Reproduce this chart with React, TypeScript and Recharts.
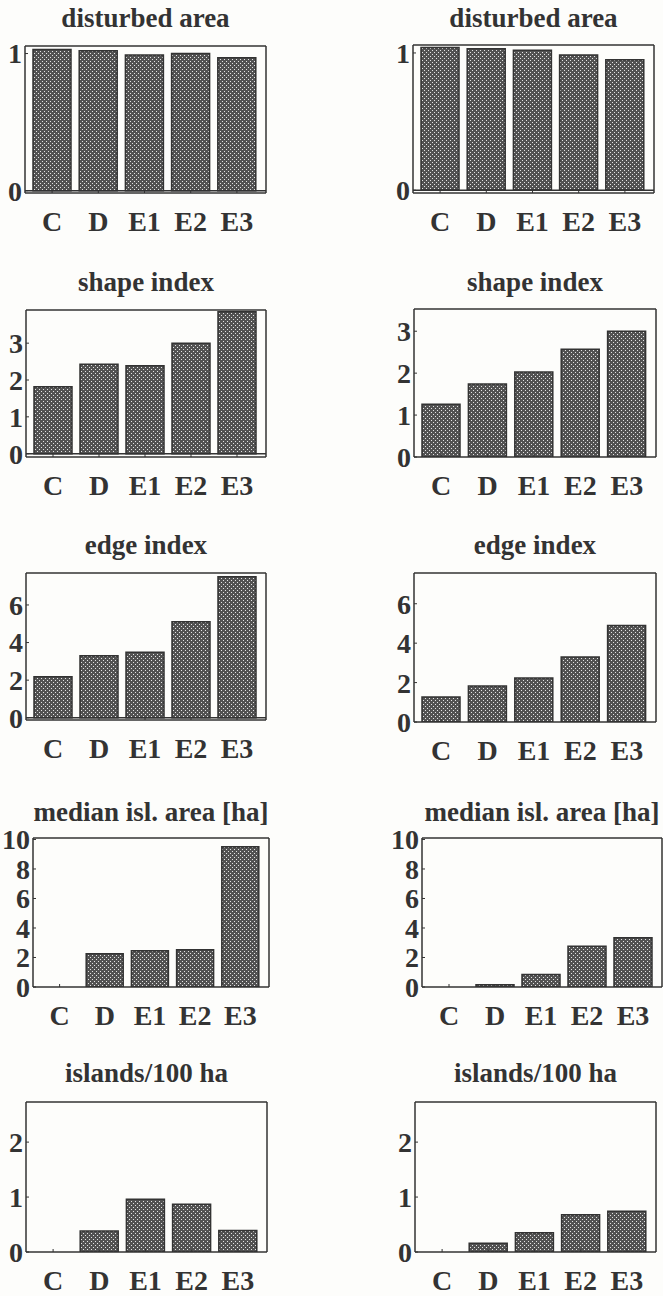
import { BarChart, Bar, XAxis, YAxis, ReferenceLine } from "recharts";

const categories = ["C", "D", "E1", "E2", "E3"];
const titles = ["disturbed area", "shape index", "edge index", "median isl. area [ha]", "islands/100 ha"];

// left column
const disturbedAreaL = [1.03, 1.02, 0.99, 1.0, 0.97];
const shapeIndexL = [1.82, 2.43, 2.39, 3.0, 3.85];
const edgeIndexL = [2.18, 3.3, 3.48, 5.1, 7.5];
const medianAreaL = [0, 2.25, 2.46, 2.53, 9.5];
const islandsL = [0, 0.38, 0.96, 0.87, 0.39];

// right column
const disturbedAreaR = [1.04, 1.03, 1.02, 0.985, 0.95];
const shapeIndexR = [1.26, 1.74, 2.03, 2.57, 3.0];
const edgeIndexR = [1.27, 1.83, 2.23, 3.3, 4.9];
const medianAreaR = [0, 0.15, 0.85, 2.76, 3.33];
const islandsR = [0, 0.16, 0.35, 0.68, 0.74];

const yTicks = [[0, 1], [0, 1, 2, 3], [0, 2, 4, 6], [0, 2, 4, 6, 8, 10], [0, 1, 2]];
const yDomainsL = [[-0.017, 1.055], [-0.09, 3.9], [-0.12, 7.7], [0, 10.1], [0, 2.73]];
const yDomainsR = [[-0.02, 1.058], [0, 3.53], [0, 7.56], [0, 10.1], [0, 2.73]];

// plot frames [x, y, w, h] in page pixels
const framesL = [[25, 46, 241, 147], [26, 310, 240, 147], [26, 573, 240, 147], [33, 838, 236, 149], [26, 1102, 241, 150]];
const framesR = [[413, 45, 241, 148], [414, 309, 242, 148], [414, 573, 242, 149], [422, 838, 240, 149], [415, 1102, 241, 150]];
const titleY = [18, 282, 545, 812, 1073];

const INK = "#333";
const FONT = "'Liberation Serif', 'Times New Roman', serif";
const Y_W = 44;
const TOP = 14;

function Panel({ id, title, values, domain, ticks, frame, ty }) {
  const [fx, fy, fw, fh] = frame;
  const data = categories.map((c, i) => ({ name: c, v: values[i] }));
  const pad = { left: 4, right: 6 };
  // keep the svg inside the page
  const xH = Math.min(72, 1296 - fy - fh);
  return (
    <>
      <div
        style={{
          position: "absolute",
          left: fx - 40,
          width: fw + 80,
          top: ty - 16,
          height: 32,
          lineHeight: "32px",
          textAlign: "center",
          fontFamily: FONT,
          fontWeight: "bold",
          fontSize: 27,
          color: INK,
          whiteSpace: "nowrap",
        }}
      >
        {title}
      </div>
      <div style={{ position: "absolute", left: fx - Y_W, top: fy - TOP }}>
        <BarChart
          width={Y_W + fw + 2}
          height={TOP + fh + xH}
          data={data}
          margin={{ top: TOP - 1, right: 1, bottom: 0, left: 0 }}
          barCategoryGap={4}
        >
          <defs>
            <pattern id={`dots-${id}`} width="4" height="4" patternUnits="userSpaceOnUse">
              <rect width="4" height="4" fill="#525252" />
              <rect x="1" y="1" width="1" height="1" fill="#e4e4e4" />
              <rect x="3" y="3" width="1" height="1" fill="#e4e4e4" />
            </pattern>
          </defs>
          <XAxis
            dataKey="name"
            padding={pad}
            height={xH}
            axisLine={{ stroke: INK, strokeWidth: 1.5 }}
            tickLine={{ stroke: INK }}
            tickSize={-3}
            tickMargin={21}
            tick={{ fontSize: 28, fontWeight: "bold", fill: INK, fontFamily: FONT }}
            interval={0}
          />
          <XAxis
            xAxisId="t"
            orientation="top"
            dataKey="name"
            padding={pad}
            height={1}
            axisLine={{ stroke: INK, strokeWidth: 1.5 }}
            tickLine={{ stroke: INK }}
            tickSize={-3}
            tick={false}
            interval={0}
          />
          <YAxis
            type="number"
            domain={domain}
            ticks={ticks}
            interval={0}
            allowDataOverflow
            width={Y_W}
            axisLine={{ stroke: INK, strokeWidth: 1.5 }}
            tickLine={{ stroke: INK }}
            tickSize={-3}
            tickMargin={6}
            tick={{ fontSize: 28, fontWeight: "bold", fill: INK, fontFamily: FONT }}
          />
          <YAxis
            yAxisId="r"
            orientation="right"
            type="number"
            domain={domain}
            ticks={ticks}
            interval={0}
            allowDataOverflow
            width={1}
            axisLine={{ stroke: INK, strokeWidth: 1.5 }}
            tickLine={{ stroke: INK }}
            tickSize={-3}
            tick={false}
          />
          {domain[0] < 0 && <ReferenceLine y={0} stroke={INK} strokeWidth={1.5} />}
          <Bar
            dataKey="v"
            fill={`url(#dots-${id})`}
            stroke={INK}
            strokeWidth={1.5}
            isAnimationActive={false}
          />
        </BarChart>
      </div>
    </>
  );
}

export default function App() {
  const left = [disturbedAreaL, shapeIndexL, edgeIndexL, medianAreaL, islandsL];
  const right = [disturbedAreaR, shapeIndexR, edgeIndexR, medianAreaR, islandsR];
  return (
    <div
      style={{
        position: "absolute",
        left: 0,
        top: 0,
        width: 663,
        height: 1296,
        overflow: "hidden",
        background: "#fdfdfb",
      }}
    >
      {titles.map((t, i) => (
        <Panel key={`l${i}`} id={`l${i}`} title={t} values={left[i]} domain={yDomainsL[i]} ticks={yTicks[i]} frame={framesL[i]} ty={titleY[i]} />
      ))}
      {titles.map((t, i) => (
        <Panel key={`r${i}`} id={`r${i}`} title={t} values={right[i]} domain={yDomainsR[i]} ticks={yTicks[i]} frame={framesR[i]} ty={titleY[i]} />
      ))}
    </div>
  );
}
